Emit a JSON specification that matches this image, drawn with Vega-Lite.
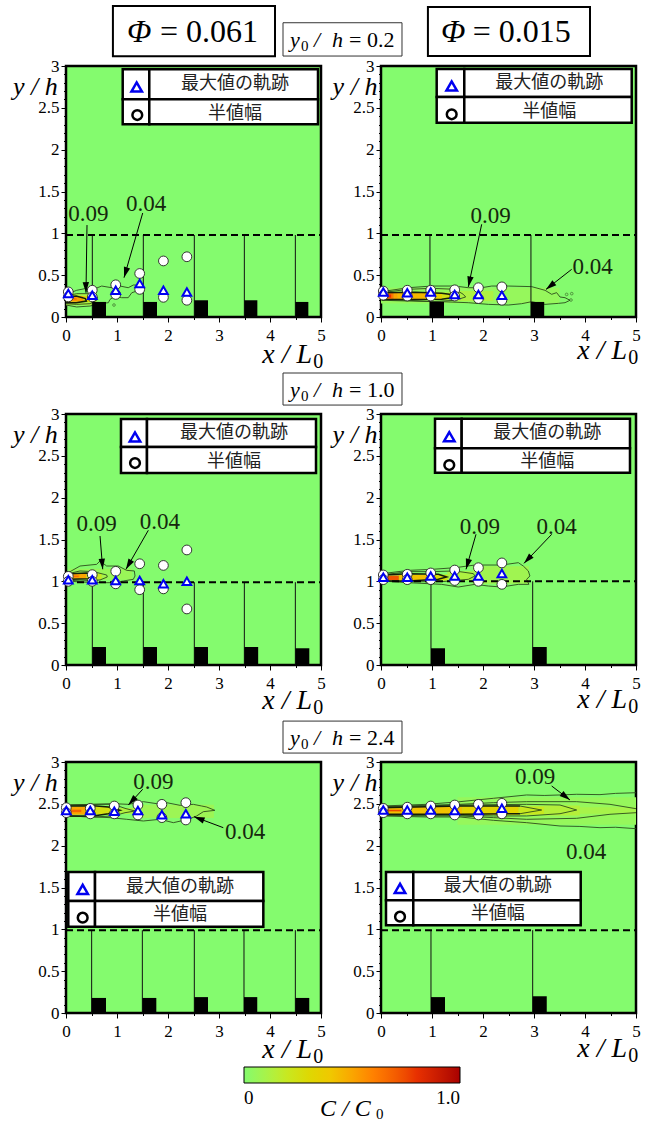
{"$schema":"https://vega.github.io/schema/vega-lite/v6.json","padding":{"left":11,"top":3,"right":0,"bottom":0},"background":"white","config":{"view":{"stroke":"#000","strokeWidth":2.5,"fill":"#84fb6e"}},"data":{"values":[
{"k":"h","p":"A","x":0,"x2":0.6,"y":0.14,"y2":0.28,"c":0.12},{"k":"h","p":"A","x":0.34,"x2":0.47,"y":0.18,"y2":0.25,"c":0.3},{"k":"h","p":"A","x":0.05,"x2":0.34,"y":0.183,"y2":0.25,"c":0.52},{"k":"h","p":"A","x":0.11,"x2":0.21,"y":0.2,"y2":0.23,"c":0.62},
{"k":"h","p":"B","x":0,"x2":3.5,"y":0.16,"y2":0.35,"c":0.05},{"k":"h","p":"B","x":1.5,"x2":2.2,"y":0.19,"y2":0.31,"c":0.12},{"k":"h","p":"B","x":1.2,"x2":1.5,"y":0.21,"y2":0.29,"c":0.25},{"k":"h","p":"B","x":0.95,"x2":1.2,"y":0.21,"y2":0.29,"c":0.35},{"k":"h","p":"B","x":0.33,"x2":0.95,"y":0.21,"y2":0.29,"c":0.45},{"k":"h","p":"B","x":0.25,"x2":0.33,"y":0.21,"y2":0.29,"c":0.5},{"k":"h","p":"B","x":0.02,"x2":0.25,"y":0.21,"y2":0.29,"c":0.62},{"k":"h","p":"B","x":0.05,"x2":0.2,"y":0.23,"y2":0.27,"c":0.8},
{"k":"h","p":"C","x":0.05,"x2":1.3,"y":1.02,"y2":1.15,"c":0.06},{"k":"h","p":"C","x":0.7,"x2":0.8,"y":1.03,"y2":1.08,"c":0.1},{"k":"h","p":"C","x":0.4,"x2":0.7,"y":1.02,"y2":1.09,"c":0.2},{"k":"h","p":"C","x":0.08,"x2":0.4,"y":1.03,"y2":1.09,"c":0.5},{"k":"h","p":"C","x":0.1,"x2":0.25,"y":1.05,"y2":1.07,"c":0.65},
{"k":"h","p":"D","x":1.8,"x2":2.9,"y":0.97,"y2":1.18,"c":0.08},{"k":"h","p":"D","x":1.3,"x2":1.8,"y":1.01,"y2":1.12,"c":0.12},{"k":"h","p":"D","x":0.95,"x2":1.3,"y":1.01,"y2":1.08,"c":0.28},{"k":"h","p":"D","x":0.35,"x2":0.95,"y":1.01,"y2":1.08,"c":0.42},{"k":"h","p":"D","x":0.02,"x2":0.35,"y":1.01,"y2":1.07,"c":0.72},
{"k":"h","p":"E","x":1.35,"x2":2.9,"y":2.33,"y2":2.49,"c":0.07},{"k":"h","p":"E","x":0.95,"x2":1.35,"y":2.38,"y2":2.45,"c":0.13},{"k":"h","p":"E","x":0.38,"x2":0.95,"y":2.37,"y2":2.47,"c":0.25},{"k":"h","p":"E","x":0.05,"x2":0.38,"y":2.37,"y2":2.47,"c":0.5},{"k":"h","p":"E","x":0.1,"x2":0.3,"y":2.4,"y2":2.43,"c":0.68},
{"k":"h","p":"F","x":1.5,"x2":5,"y":2.25,"y2":2.58,"c":0.05},{"k":"h","p":"F","x":3.9,"x2":5,"y":2.38,"y2":2.46,"c":0.1},{"k":"h","p":"F","x":3.2,"x2":3.9,"y":2.36,"y2":2.48,"c":0.14},{"k":"h","p":"F","x":2.7,"x2":3.2,"y":2.37,"y2":2.47,"c":0.2},{"k":"h","p":"F","x":1.6,"x2":2.7,"y":2.37,"y2":2.47,"c":0.33},{"k":"h","p":"F","x":0.02,"x2":1.6,"y":2.37,"y2":2.47,"c":0.42},{"k":"h","p":"F","x":0.05,"x2":0.4,"y":2.41,"y2":2.43,"c":0.75},

{"k":"c","p":"A","id":"A1","x":0,"y":0.27},{"k":"c","p":"A","id":"A1","x":0.21,"y":0.319},{"k":"c","p":"A","id":"A1","x":0.405,"y":0.343},{"k":"c","p":"A","id":"A1","x":0.536,"y":0.33},{"k":"c","p":"A","id":"A1","x":0.7,"y":0.37},{"k":"c","p":"A","id":"A1","x":0.895,"y":0.35},{"k":"c","p":"A","id":"A1","x":1.06,"y":0.37},{"k":"c","p":"A","id":"A1","x":1.22,"y":0.35},{"k":"c","p":"A","id":"A1","x":1.32,"y":0.382},{"k":"c","p":"A","id":"A1","x":1.45,"y":0.382},{"k":"c","p":"A","id":"A1","x":1.386,"y":0.31},{"k":"c","p":"A","id":"A1","x":1.29,"y":0.29},{"k":"c","p":"A","id":"A1","x":1.22,"y":0.231},{"k":"c","p":"A","id":"A1","x":1.09,"y":0.231},{"k":"c","p":"A","id":"A1","x":0.96,"y":0.25},{"k":"c","p":"A","id":"A1","x":0.863,"y":0.21},{"k":"c","p":"A","id":"A1","x":0.83,"y":0.171},{"k":"c","p":"A","id":"A1","x":0.667,"y":0.16},{"k":"c","p":"A","id":"A1","x":0.47,"y":0.131},{"k":"c","p":"A","id":"A1","x":0.21,"y":0.12},{"k":"c","p":"A","id":"A1","x":0,"y":0.143},
{"k":"c","p":"A","id":"A2","x":0,"y":0.25},{"k":"c","p":"A","id":"A2","x":0.21,"y":0.279},{"k":"c","p":"A","id":"A2","x":0.47,"y":0.279},{"k":"c","p":"A","id":"A2","x":0.614,"y":0.239},{"k":"c","p":"A","id":"A2","x":0.6,"y":0.2},{"k":"c","p":"A","id":"A2","x":0.47,"y":0.159},{"k":"c","p":"A","id":"A2","x":0.21,"y":0.151},{"k":"c","p":"A","id":"A2","x":0,"y":0.159},
{"k":"c2","p":"A","id":"A3","x":0,"y":0.24},{"k":"c2","p":"A","id":"A3","x":0.2,"y":0.25},{"k":"c2","p":"A","id":"A3","x":0.38,"y":0.22},{"k":"c2","p":"A","id":"A3","x":0.4,"y":0.19},{"k":"c2","p":"A","id":"A3","x":0.2,"y":0.17},{"k":"c2","p":"A","id":"A3","x":0,"y":0.17},

{"k":"c","p":"B","id":"B1","x":0.013,"y":0.303},{"k":"c","p":"B","id":"B1","x":0.536,"y":0.35},{"k":"c","p":"B","id":"B1","x":0.993,"y":0.37},{"k":"c","p":"B","id":"B1","x":1.45,"y":0.37},{"k":"c","p":"B","id":"B1","x":1.712,"y":0.35},{"k":"c","p":"B","id":"B1","x":1.974,"y":0.35},{"k":"c","p":"B","id":"B1","x":2.17,"y":0.37},{"k":"c","p":"B","id":"B1","x":2.497,"y":0.37},{"k":"c","p":"B","id":"B1","x":2.954,"y":0.363},{"k":"c","p":"B","id":"B1","x":3.216,"y":0.319},{"k":"c","p":"B","id":"B1","x":3.346,"y":0.271},{"k":"c","p":"B","id":"B1","x":3.444,"y":0.291},{"k":"c","p":"B","id":"B1","x":3.51,"y":0.239},{"k":"c","p":"B","id":"B1","x":3.608,"y":0.231},{"k":"c","p":"B","id":"B1","x":3.706,"y":0.2},{"k":"c","p":"B","id":"B1","x":3.608,"y":0.171},{"k":"c","p":"B","id":"B1","x":3.477,"y":0.163},{"k":"c","p":"B","id":"B1","x":3.216,"y":0.151},{"k":"c","p":"B","id":"B1","x":2.954,"y":0.183},{"k":"c","p":"B","id":"B1","x":2.758,"y":0.159},{"k":"c","p":"B","id":"B1","x":2.497,"y":0.143},{"k":"c","p":"B","id":"B1","x":2.105,"y":0.151},{"k":"c","p":"B","id":"B1","x":1.712,"y":0.171},{"k":"c","p":"B","id":"B1","x":1.19,"y":0.183},{"k":"c","p":"B","id":"B1","x":0.536,"y":0.191},{"k":"c","p":"B","id":"B1","x":0.013,"y":0.2},
{"k":"c","p":"B","id":"B2","x":0.013,"y":0.291},{"k":"c","p":"B","id":"B2","x":0.536,"y":0.331},{"k":"c","p":"B","id":"B2","x":0.993,"y":0.343},{"k":"c","p":"B","id":"B2","x":1.45,"y":0.331},{"k":"c","p":"B","id":"B2","x":1.614,"y":0.271},{"k":"c","p":"B","id":"B2","x":1.66,"y":0.239},{"k":"c","p":"B","id":"B2","x":1.45,"y":0.2},{"k":"c","p":"B","id":"B2","x":0.993,"y":0.183},{"k":"c","p":"B","id":"B2","x":0.536,"y":0.2},{"k":"c","p":"B","id":"B2","x":0.013,"y":0.211},
{"k":"c2","p":"B","id":"B3","x":0.013,"y":0.29},{"k":"c2","p":"B","id":"B3","x":0.667,"y":0.295},{"k":"c2","p":"B","id":"B3","x":1.19,"y":0.285},{"k":"c2","p":"B","id":"B3","x":1.45,"y":0.263},{"k":"c2","p":"B","id":"B3","x":1.484,"y":0.239},{"k":"c2","p":"B","id":"B3","x":1.19,"y":0.211},{"k":"c2","p":"B","id":"B3","x":0.667,"y":0.208},{"k":"c2","p":"B","id":"B3","x":0.013,"y":0.208},

{"k":"c","p":"C","id":"C1","x":0.046,"y":1.104},{"k":"c","p":"C","id":"C1","x":0.275,"y":1.183},{"k":"c","p":"C","id":"C1","x":0.6,"y":1.203},{"k":"c","p":"C","id":"C1","x":0.667,"y":1.243},{"k":"c","p":"C","id":"C1","x":0.797,"y":1.183},{"k":"c","p":"C","id":"C1","x":1.026,"y":1.183},{"k":"c","p":"C","id":"C1","x":1.19,"y":1.131},{"k":"c","p":"C","id":"C1","x":1.34,"y":1.124},{"k":"c","p":"C","id":"C1","x":1.353,"y":1.064},{"k":"c","p":"C","id":"C1","x":1.32,"y":1.024},{"k":"c","p":"C","id":"C1","x":1.124,"y":1.004},{"k":"c","p":"C","id":"C1","x":0.928,"y":0.984},{"k":"c","p":"C","id":"C1","x":0.667,"y":0.984},{"k":"c","p":"C","id":"C1","x":0.275,"y":0.992},{"k":"c","p":"C","id":"C1","x":0.046,"y":1.004},
{"k":"c","p":"C","id":"C2","x":0.046,"y":1.092},{"k":"c","p":"C","id":"C2","x":0.275,"y":1.124},{"k":"c","p":"C","id":"C2","x":0.536,"y":1.116},{"k":"c","p":"C","id":"C2","x":0.797,"y":1.076},{"k":"c","p":"C","id":"C2","x":0.81,"y":1.052},{"k":"c","p":"C","id":"C2","x":0.667,"y":1.016},{"k":"c","p":"C","id":"C2","x":0.275,"y":1.004},{"k":"c","p":"C","id":"C2","x":0.046,"y":1.016},
{"k":"c2","p":"C","id":"C3","x":0.08,"y":1.092},{"k":"c2","p":"C","id":"C3","x":0.405,"y":1.1},{"k":"c2","p":"C","id":"C3","x":0.503,"y":1.064},{"k":"c2","p":"C","id":"C3","x":0.438,"y":1.032},{"k":"c2","p":"C","id":"C3","x":0.08,"y":1.024},

{"k":"c","p":"D","id":"D1","x":0,"y":1.09},{"k":"c","p":"D","id":"D1","x":0.536,"y":1.131},{"k":"c","p":"D","id":"D1","x":0.993,"y":1.143},{"k":"c","p":"D","id":"D1","x":1.45,"y":1.163},{"k":"c","p":"D","id":"D1","x":1.843,"y":1.195},{"k":"c","p":"D","id":"D1","x":2.366,"y":1.195},{"k":"c","p":"D","id":"D1","x":2.693,"y":1.223},{"k":"c","p":"D","id":"D1","x":2.79,"y":1.183},{"k":"c","p":"D","id":"D1","x":2.889,"y":1.124},{"k":"c","p":"D","id":"D1","x":2.92,"y":1.064},{"k":"c","p":"D","id":"D1","x":2.856,"y":1.024},{"k":"c","p":"D","id":"D1","x":2.9,"y":0.964},{"k":"c","p":"D","id":"D1","x":2.693,"y":0.964},{"k":"c","p":"D","id":"D1","x":2.366,"y":0.932},{"k":"c","p":"D","id":"D1","x":2.105,"y":0.944},{"k":"c","p":"D","id":"D1","x":1.843,"y":0.964},{"k":"c","p":"D","id":"D1","x":1.516,"y":0.932},{"k":"c","p":"D","id":"D1","x":1.19,"y":0.964},{"k":"c","p":"D","id":"D1","x":0.536,"y":0.984},{"k":"c","p":"D","id":"D1","x":0,"y":1.004},
{"k":"c","p":"D","id":"D2","x":0.013,"y":1.076},{"k":"c","p":"D","id":"D2","x":0.536,"y":1.116},{"k":"c","p":"D","id":"D2","x":0.993,"y":1.116},{"k":"c","p":"D","id":"D2","x":1.45,"y":1.124},{"k":"c","p":"D","id":"D2","x":1.81,"y":1.092},{"k":"c","p":"D","id":"D2","x":1.843,"y":1.064},{"k":"c","p":"D","id":"D2","x":1.712,"y":1.024},{"k":"c","p":"D","id":"D2","x":1.19,"y":0.996},{"k":"c","p":"D","id":"D2","x":0.536,"y":0.996},{"k":"c","p":"D","id":"D2","x":0.013,"y":1.004},
{"k":"c2","p":"D","id":"D3","x":0.013,"y":1.076},{"k":"c2","p":"D","id":"D3","x":0.536,"y":1.092},{"k":"c2","p":"D","id":"D3","x":1.124,"y":1.084},{"k":"c2","p":"D","id":"D3","x":1.288,"y":1.052},{"k":"c2","p":"D","id":"D3","x":1.124,"y":1.024},{"k":"c2","p":"D","id":"D3","x":0.536,"y":1.004},{"k":"c2","p":"D","id":"D3","x":0.013,"y":1.004},

{"k":"c","p":"E","id":"E1","x":0,"y":2.486},{"k":"c","p":"E","id":"E1","x":0.536,"y":2.494},{"k":"c","p":"E","id":"E1","x":0.928,"y":2.502},{"k":"c","p":"E","id":"E1","x":1.222,"y":2.494},{"k":"c","p":"E","id":"E1","x":1.516,"y":2.526},{"k":"c","p":"E","id":"E1","x":1.778,"y":2.502},{"k":"c","p":"E","id":"E1","x":1.974,"y":2.514},{"k":"c","p":"E","id":"E1","x":2.235,"y":2.482},{"k":"c","p":"E","id":"E1","x":2.497,"y":2.494},{"k":"c","p":"E","id":"E1","x":2.66,"y":2.474},{"k":"c","p":"E","id":"E1","x":2.758,"y":2.462},{"k":"c","p":"E","id":"E1","x":2.92,"y":2.422},{"k":"c","p":"E","id":"E1","x":2.693,"y":2.406},{"k":"c","p":"E","id":"E1","x":2.562,"y":2.355},{"k":"c","p":"E","id":"E1","x":2.399,"y":2.315},{"k":"c","p":"E","id":"E1","x":2.105,"y":2.275},{"k":"c","p":"E","id":"E1","x":1.843,"y":2.315},{"k":"c","p":"E","id":"E1","x":1.516,"y":2.295},{"k":"c","p":"E","id":"E1","x":1.19,"y":2.315},{"k":"c","p":"E","id":"E1","x":0.863,"y":2.335},{"k":"c","p":"E","id":"E1","x":0.536,"y":2.343},{"k":"c","p":"E","id":"E1","x":0,"y":2.355},
{"k":"c","p":"E","id":"E2","x":0,"y":2.486},{"k":"c","p":"E","id":"E2","x":0.536,"y":2.494},{"k":"c","p":"E","id":"E2","x":0.928,"y":2.494},{"k":"c","p":"E","id":"E2","x":1.157,"y":2.446},{"k":"c","p":"E","id":"E2","x":1.353,"y":2.414},{"k":"c","p":"E","id":"E2","x":1.157,"y":2.394},{"k":"c","p":"E","id":"E2","x":0.928,"y":2.355},{"k":"c","p":"E","id":"E2","x":0.536,"y":2.343},{"k":"c","p":"E","id":"E2","x":0,"y":2.355},
{"k":"c2","p":"E","id":"E3","x":0,"y":2.474},{"k":"c2","p":"E","id":"E3","x":0.536,"y":2.478},{"k":"c2","p":"E","id":"E3","x":0.83,"y":2.462},{"k":"c2","p":"E","id":"E3","x":1.059,"y":2.422},{"k":"c2","p":"E","id":"E3","x":0.83,"y":2.382},{"k":"c2","p":"E","id":"E3","x":0.536,"y":2.355},{"k":"c2","p":"E","id":"E3","x":0,"y":2.355},

{"k":"c","p":"F","id":"F1","x":0.013,"y":2.474},{"k":"c","p":"F","id":"F1","x":0.895,"y":2.494},{"k":"c","p":"F","id":"F1","x":1.549,"y":2.526},{"k":"c","p":"F","id":"F1","x":2.203,"y":2.566},{"k":"c","p":"F","id":"F1","x":2.856,"y":2.606},{"k":"c","p":"F","id":"F1","x":3.2,"y":2.6},{"k":"c","p":"F","id":"F1","x":3.51,"y":2.606},{"k":"c","p":"F","id":"F1","x":3.837,"y":2.614},{"k":"c","p":"F","id":"F1","x":4.294,"y":2.61},{"k":"c","p":"F","id":"F1","x":4.6,"y":2.625},{"k":"c","p":"F","id":"F1","x":5,"y":2.633},
{"k":"c","p":"F","id":"F1b","x":5,"y":2.203},{"k":"c","p":"F","id":"F1b","x":4.6,"y":2.22},{"k":"c","p":"F","id":"F1b","x":4.294,"y":2.215},{"k":"c","p":"F","id":"F1b","x":3.9,"y":2.23},{"k":"c","p":"F","id":"F1b","x":3.51,"y":2.235},{"k":"c","p":"F","id":"F1b","x":2.856,"y":2.275},{"k":"c","p":"F","id":"F1b","x":2.203,"y":2.303},{"k":"c","p":"F","id":"F1b","x":1.549,"y":2.343},{"k":"c","p":"F","id":"F1b","x":0.895,"y":2.343},{"k":"c","p":"F","id":"F1b","x":0.013,"y":2.355},
{"k":"c","p":"F","id":"F2","x":0.013,"y":2.466},{"k":"c","p":"F","id":"F2","x":0.895,"y":2.482},{"k":"c","p":"F","id":"F2","x":1.549,"y":2.494},{"k":"c","p":"F","id":"F2","x":2.203,"y":2.514},{"k":"c","p":"F","id":"F2","x":2.856,"y":2.526},{"k":"c","p":"F","id":"F2","x":3.837,"y":2.526},{"k":"c","p":"F","id":"F2","x":4.49,"y":2.494},{"k":"c","p":"F","id":"F2","x":5,"y":2.442},
{"k":"c","p":"F","id":"F2b","x":5,"y":2.394},{"k":"c","p":"F","id":"F2b","x":4.49,"y":2.375},{"k":"c","p":"F","id":"F2b","x":3.837,"y":2.327},{"k":"c","p":"F","id":"F2b","x":2.856,"y":2.315},{"k":"c","p":"F","id":"F2b","x":2.203,"y":2.335},{"k":"c","p":"F","id":"F2b","x":1.549,"y":2.355},{"k":"c","p":"F","id":"F2b","x":0.895,"y":2.355},{"k":"c","p":"F","id":"F2b","x":0.013,"y":2.363},
{"k":"c","p":"F","id":"F3","x":0.013,"y":2.462},{"k":"c","p":"F","id":"F3","x":1.549,"y":2.486},{"k":"c","p":"F","id":"F3","x":2.856,"y":2.494},{"k":"c","p":"F","id":"F3","x":3.51,"y":2.486},{"k":"c","p":"F","id":"F3","x":3.837,"y":2.426},{"k":"c","p":"F","id":"F3","x":3.51,"y":2.382},{"k":"c","p":"F","id":"F3","x":2.856,"y":2.355},{"k":"c","p":"F","id":"F3","x":2.203,"y":2.355},{"k":"c","p":"F","id":"F3","x":1.549,"y":2.363},{"k":"c","p":"F","id":"F3","x":0.013,"y":2.363},
{"k":"c2","p":"F","id":"F4","x":0.013,"y":2.454},{"k":"c2","p":"F","id":"F4","x":1.549,"y":2.474},{"k":"c2","p":"F","id":"F4","x":2.725,"y":2.474},{"k":"c","p":"F","id":"F4t","x":2.725,"y":2.474},{"k":"c","p":"F","id":"F4t","x":3.15,"y":2.426},{"k":"c","p":"F","id":"F4t","x":2.725,"y":2.382},{"k":"c2","p":"F","id":"F4b","x":2.725,"y":2.382},{"k":"c2","p":"F","id":"F4b","x":1.549,"y":2.375},{"k":"c2","p":"F","id":"F4b","x":0.013,"y":2.375},

{"k":"ring","p":"A","x":0.941,"y":0.143},{"k":"ring","p":"B","x":3.64,"y":0.27},{"k":"ring","p":"B","x":3.74,"y":0.279},{"k":"ring","p":"B","x":3.725,"y":0.203},

{"k":"v","p":"A","x":0.516,"y":0,"y2":0.98},{"k":"v","p":"A","x":1.516,"y":0,"y2":0.98},{"k":"v","p":"A","x":2.516,"y":0,"y2":0.98},{"k":"v","p":"A","x":3.497,"y":0,"y2":0.98},{"k":"v","p":"A","x":4.497,"y":0,"y2":0.98},
{"k":"v","p":"B","x":0.96,"y":0,"y2":0.98},{"k":"v","p":"B","x":2.94,"y":0,"y2":0.98},
{"k":"v","p":"C","x":0.516,"y":0,"y2":0.99},{"k":"v","p":"C","x":1.516,"y":0,"y2":0.99},{"k":"v","p":"C","x":2.516,"y":0,"y2":0.99},{"k":"v","p":"C","x":3.497,"y":0,"y2":0.99},{"k":"v","p":"C","x":4.497,"y":0,"y2":0.99},
{"k":"v","p":"D","x":0.98,"y":0,"y2":1},{"k":"v","p":"D","x":2.974,"y":0,"y2":1},
{"k":"v","p":"E","x":0.503,"y":0,"y2":0.99},{"k":"v","p":"E","x":1.497,"y":0,"y2":0.99},{"k":"v","p":"E","x":2.516,"y":0,"y2":0.99},{"k":"v","p":"E","x":3.49,"y":0,"y2":0.99},{"k":"v","p":"E","x":4.497,"y":0,"y2":0.99},
{"k":"v","p":"F","x":0.98,"y":0,"y2":0.99},{"k":"v","p":"F","x":2.974,"y":0,"y2":0.99},

{"k":"d","p":"A","x":0,"x2":5,"y":0.98},{"k":"d","p":"B","x":0,"x2":5,"y":0.98},{"k":"d","p":"C","x":0,"x2":5,"y":0.99},{"k":"d","p":"D","x":0,"x2":5,"y":1},{"k":"d","p":"E","x":0,"x2":5,"y":0.99},{"k":"d","p":"F","x":0,"x2":5,"y":0.99},

{"k":"o","p":"A","x":0.516,"x2":0.784,"y":0,"y2":0.18},{"k":"o","p":"A","x":1.516,"x2":1.784,"y":0,"y2":0.18},{"k":"o","p":"A","x":2.516,"x2":2.784,"y":0,"y2":0.2},{"k":"o","p":"A","x":3.497,"x2":3.752,"y":0,"y2":0.2},{"k":"o","p":"A","x":4.497,"x2":4.752,"y":0,"y2":0.18},
{"k":"o","p":"B","x":0.96,"x2":1.235,"y":0,"y2":0.18},{"k":"o","p":"B","x":2.94,"x2":3.2,"y":0,"y2":0.18},
{"k":"o","p":"C","x":0.516,"x2":0.784,"y":0,"y2":0.215},{"k":"o","p":"C","x":1.516,"x2":1.784,"y":0,"y2":0.215},{"k":"o","p":"C","x":2.516,"x2":2.784,"y":0,"y2":0.215},{"k":"o","p":"C","x":3.497,"x2":3.768,"y":0,"y2":0.215},{"k":"o","p":"C","x":4.497,"x2":4.771,"y":0,"y2":0.2},
{"k":"o","p":"D","x":0.98,"x2":1.255,"y":0,"y2":0.2},{"k":"o","p":"D","x":2.974,"x2":3.25,"y":0,"y2":0.215},
{"k":"o","p":"E","x":0.503,"x2":0.784,"y":0,"y2":0.18},{"k":"o","p":"E","x":1.497,"x2":1.771,"y":0,"y2":0.18},{"k":"o","p":"E","x":2.516,"x2":2.784,"y":0,"y2":0.19},{"k":"o","p":"E","x":3.49,"x2":3.75,"y":0,"y2":0.19},{"k":"o","p":"E","x":4.497,"x2":4.77,"y":0,"y2":0.18},
{"k":"o","p":"F","x":0.98,"x2":1.255,"y":0,"y2":0.19},{"k":"o","p":"F","x":2.974,"x2":3.25,"y":0,"y2":0.2},

{"k":"ar","p":"A","id":"a1","x":0.412,"y":1.099},{"k":"ar","p":"A","id":"a1","x":0.392,"y":0.29},{"k":"ar","p":"A","id":"a2","x":1.504,"y":1.243},{"k":"ar","p":"A","id":"a2","x":1.137,"y":0.47},
{"k":"ar","p":"B","id":"b1","x":1.974,"y":1.108},{"k":"ar","p":"B","id":"b1","x":1.712,"y":0.359},{"k":"ar","p":"B","id":"b2","x":3.739,"y":0.57},{"k":"ar","p":"B","id":"b2","x":3.235,"y":0.33},
{"k":"ar","p":"C","id":"c1","x":0.667,"y":1.542},{"k":"ar","p":"C","id":"c1","x":0.72,"y":1.144},{"k":"ar","p":"C","id":"c2","x":1.614,"y":1.61},{"k":"ar","p":"C","id":"c2","x":1.176,"y":1.144},
{"k":"ar","p":"D","id":"d1","x":1.863,"y":1.562},{"k":"ar","p":"D","id":"d1","x":1.667,"y":1.144},{"k":"ar","p":"D","id":"d2","x":3.347,"y":1.562},{"k":"ar","p":"D","id":"d2","x":2.804,"y":1.215},
{"k":"ar","p":"E","id":"e1","x":1.504,"y":2.674},{"k":"ar","p":"E","id":"e1","x":1.222,"y":2.486},{"k":"ar","p":"E","id":"e2","x":3.084,"y":2.215},{"k":"ar","p":"E","id":"e2","x":2.51,"y":2.346},
{"k":"ar","p":"F","id":"f1","x":3.347,"y":2.713},{"k":"ar","p":"F","id":"f1","x":3.706,"y":2.546},

{"k":"hd","p":"A","x":0.392,"y":0.29,"a":179},{"k":"hd","p":"A","x":1.137,"y":0.47,"a":196.6},{"k":"hd","p":"B","x":1.712,"y":0.359,"a":192},{"k":"hd","p":"B","x":3.235,"y":0.33,"a":232},{"k":"hd","p":"C","x":0.72,"y":1.144,"a":175},{"k":"hd","p":"C","x":1.176,"y":1.144,"a":209.8},{"k":"hd","p":"D","x":1.667,"y":1.144,"a":196},{"k":"hd","p":"D","x":2.804,"y":1.215,"a":223.7},{"k":"hd","p":"E","x":1.222,"y":2.486,"a":222.5},{"k":"hd","p":"E","x":2.51,"y":2.346,"a":290.6},{"k":"hd","p":"F","x":3.706,"y":2.546,"a":127.4},

{"k":"cir","p":"A","x":0.045,"y":0.3},{"k":"cir","p":"A","x":0.045,"y":0.24},{"k":"cir","p":"A","x":0.515,"y":0.32},{"k":"cir","p":"A","x":0.515,"y":0.24},{"k":"cir","p":"A","x":0.975,"y":0.385},{"k":"cir","p":"A","x":0.975,"y":0.27},{"k":"cir","p":"A","x":1.445,"y":0.52},{"k":"cir","p":"A","x":1.445,"y":0.33},{"k":"cir","p":"A","x":1.91,"y":0.67},{"k":"cir","p":"A","x":1.91,"y":0.235},{"k":"cir","p":"A","x":2.37,"y":0.72},{"k":"cir","p":"A","x":2.37,"y":0.2},
{"k":"cir","p":"B","x":0.045,"y":0.31},{"k":"cir","p":"B","x":0.045,"y":0.26},{"k":"cir","p":"B","x":0.515,"y":0.32},{"k":"cir","p":"B","x":0.515,"y":0.25},{"k":"cir","p":"B","x":0.975,"y":0.32},{"k":"cir","p":"B","x":0.975,"y":0.25},{"k":"cir","p":"B","x":1.445,"y":0.325},{"k":"cir","p":"B","x":1.445,"y":0.25},{"k":"cir","p":"B","x":1.91,"y":0.35},{"k":"cir","p":"B","x":1.91,"y":0.22},{"k":"cir","p":"B","x":2.37,"y":0.36},{"k":"cir","p":"B","x":2.37,"y":0.2},
{"k":"cir","p":"C","x":0.045,"y":1.06},{"k":"cir","p":"C","x":0.045,"y":1.0},{"k":"cir","p":"C","x":0.515,"y":1.08},{"k":"cir","p":"C","x":0.515,"y":1.0},{"k":"cir","p":"C","x":0.975,"y":1.12},{"k":"cir","p":"C","x":0.975,"y":0.97},{"k":"cir","p":"C","x":1.445,"y":1.21},{"k":"cir","p":"C","x":1.445,"y":0.9},{"k":"cir","p":"C","x":1.91,"y":1.19},{"k":"cir","p":"C","x":1.91,"y":0.91},{"k":"cir","p":"C","x":2.37,"y":1.375},{"k":"cir","p":"C","x":2.37,"y":0.67},
{"k":"cir","p":"D","x":0.045,"y":1.076},{"k":"cir","p":"D","x":0.045,"y":1.02},{"k":"cir","p":"D","x":0.515,"y":1.084},{"k":"cir","p":"D","x":0.515,"y":1.02},{"k":"cir","p":"D","x":0.975,"y":1.1},{"k":"cir","p":"D","x":0.975,"y":1.02},{"k":"cir","p":"D","x":1.445,"y":1.135},{"k":"cir","p":"D","x":1.445,"y":1.01},{"k":"cir","p":"D","x":1.91,"y":1.163},{"k":"cir","p":"D","x":1.91,"y":1.0},{"k":"cir","p":"D","x":2.37,"y":1.22},{"k":"cir","p":"D","x":2.37,"y":0.964},
{"k":"cir","p":"E","x":0.006,"y":2.454},{"k":"cir","p":"E","x":0.006,"y":2.394},{"k":"cir","p":"E","x":0.476,"y":2.446},{"k":"cir","p":"E","x":0.476,"y":2.38},{"k":"cir","p":"E","x":0.947,"y":2.474},{"k":"cir","p":"E","x":0.947,"y":2.38},{"k":"cir","p":"E","x":1.41,"y":2.486},{"k":"cir","p":"E","x":1.41,"y":2.367},{"k":"cir","p":"E","x":1.88,"y":2.494},{"k":"cir","p":"E","x":1.88,"y":2.335},{"k":"cir","p":"E","x":2.35,"y":2.514},{"k":"cir","p":"E","x":2.35,"y":2.307},
{"k":"cir","p":"F","x":0.045,"y":2.446},{"k":"cir","p":"F","x":0.045,"y":2.394},{"k":"cir","p":"F","x":0.515,"y":2.46},{"k":"cir","p":"F","x":0.515,"y":2.38},{"k":"cir","p":"F","x":0.975,"y":2.474},{"k":"cir","p":"F","x":0.975,"y":2.38},{"k":"cir","p":"F","x":1.445,"y":2.486},{"k":"cir","p":"F","x":1.445,"y":2.367},{"k":"cir","p":"F","x":1.91,"y":2.494},{"k":"cir","p":"F","x":1.91,"y":2.367},{"k":"cir","p":"F","x":2.37,"y":2.506},{"k":"cir","p":"F","x":2.37,"y":2.38},

{"k":"tri","p":"A","x":0.045,"y":0.28},{"k":"tri","p":"A","x":0.515,"y":0.26},{"k":"tri","p":"A","x":0.975,"y":0.32},{"k":"tri","p":"A","x":1.445,"y":0.4},{"k":"tri","p":"A","x":1.91,"y":0.32},{"k":"tri","p":"A","x":2.37,"y":0.3},
{"k":"tri","p":"B","x":0.045,"y":0.3},{"k":"tri","p":"B","x":0.515,"y":0.29},{"k":"tri","p":"B","x":0.975,"y":0.3},{"k":"tri","p":"B","x":1.445,"y":0.27},{"k":"tri","p":"B","x":1.91,"y":0.27},{"k":"tri","p":"B","x":2.37,"y":0.26},
{"k":"tri","p":"C","x":0.045,"y":1.02},{"k":"tri","p":"C","x":0.515,"y":1.02},{"k":"tri","p":"C","x":0.975,"y":1.01},{"k":"tri","p":"C","x":1.445,"y":1.01},{"k":"tri","p":"C","x":1.91,"y":0.97},{"k":"tri","p":"C","x":2.37,"y":1.0},
{"k":"tri","p":"D","x":0.045,"y":1.05},{"k":"tri","p":"D","x":0.515,"y":1.05},{"k":"tri","p":"D","x":0.975,"y":1.065},{"k":"tri","p":"D","x":1.445,"y":1.065},{"k":"tri","p":"D","x":1.91,"y":1.065},{"k":"tri","p":"D","x":2.37,"y":1.095},
{"k":"tri","p":"E","x":0.006,"y":2.42},{"k":"tri","p":"E","x":0.476,"y":2.42},{"k":"tri","p":"E","x":0.947,"y":2.41},{"k":"tri","p":"E","x":1.41,"y":2.42},{"k":"tri","p":"E","x":1.88,"y":2.37},{"k":"tri","p":"E","x":2.35,"y":2.38},
{"k":"tri","p":"F","x":0.045,"y":2.426},{"k":"tri","p":"F","x":0.515,"y":2.426},{"k":"tri","p":"F","x":0.975,"y":2.426},{"k":"tri","p":"F","x":1.445,"y":2.42},{"k":"tri","p":"F","x":1.91,"y":2.42},{"k":"tri","p":"F","x":2.37,"y":2.446},

{"k":"lg","p":"A","x":1.112,"x2":1.633,"y":2.96,"y2":2.602},{"k":"lg","p":"A","x":1.633,"x2":4.941,"y":2.96,"y2":2.602},{"k":"lg","p":"A","x":1.112,"x2":1.633,"y":2.602,"y2":2.303},{"k":"lg","p":"A","x":1.633,"x2":4.941,"y":2.602,"y2":2.303},
{"k":"lg","p":"B","x":1.092,"x2":1.633,"y":2.964,"y2":2.629},{"k":"lg","p":"B","x":1.633,"x2":4.916,"y":2.964,"y2":2.629},{"k":"lg","p":"B","x":1.092,"x2":1.633,"y":2.629,"y2":2.322},{"k":"lg","p":"B","x":1.633,"x2":4.916,"y":2.629,"y2":2.322},
{"k":"lg","p":"C","x":1.078,"x2":1.588,"y":2.94,"y2":2.606},{"k":"lg","p":"C","x":1.588,"x2":4.902,"y":2.94,"y2":2.606},{"k":"lg","p":"C","x":1.078,"x2":1.588,"y":2.606,"y2":2.295},{"k":"lg","p":"C","x":1.588,"x2":4.902,"y":2.606,"y2":2.295},
{"k":"lg","p":"D","x":1.059,"x2":1.582,"y":2.944,"y2":2.59},{"k":"lg","p":"D","x":1.582,"x2":4.882,"y":2.944,"y2":2.59},{"k":"lg","p":"D","x":1.059,"x2":1.582,"y":2.59,"y2":2.298},{"k":"lg","p":"D","x":1.582,"x2":4.882,"y":2.59,"y2":2.298},
{"k":"lg","p":"E","x":0.045,"x2":0.569,"y":1.685,"y2":1.339},{"k":"lg","p":"E","x":0.569,"x2":3.869,"y":1.685,"y2":1.339},{"k":"lg","p":"E","x":0.045,"x2":0.569,"y":1.339,"y2":1.031},{"k":"lg","p":"E","x":0.569,"x2":3.869,"y":1.339,"y2":1.031},
{"k":"lg","p":"F","x":0.098,"x2":0.633,"y":1.685,"y2":1.347},{"k":"lg","p":"F","x":0.633,"x2":3.916,"y":1.685,"y2":1.347},{"k":"lg","p":"F","x":0.098,"x2":0.633,"y":1.347,"y2":1.048},{"k":"lg","p":"F","x":0.633,"x2":3.916,"y":1.347,"y2":1.048},

{"k":"ltri","p":"A","x":1.386,"y":2.749},{"k":"lcir","p":"A","x":1.398,"y":2.414},{"k":"lt","p":"A","x":3.314,"y":2.785,"t":"最大値の軌跡"},{"k":"lt","p":"A","x":3.314,"y":2.43,"t":"半値幅"},
{"k":"ltri","p":"B","x":1.386,"y":2.761},{"k":"lcir","p":"B","x":1.386,"y":2.423},{"k":"lt","p":"B","x":3.3,"y":2.793,"t":"最大値の軌跡"},{"k":"lt","p":"B","x":3.3,"y":2.454,"t":"半値幅"},
{"k":"ltri","p":"C","x":1.353,"y":2.725},{"k":"lcir","p":"C","x":1.353,"y":2.414},{"k":"lt","p":"C","x":3.294,"y":2.773,"t":"最大値の軌跡"},{"k":"lt","p":"C","x":3.294,"y":2.426,"t":"半値幅"},
{"k":"ltri","p":"D","x":1.339,"y":2.729},{"k":"lcir","p":"D","x":1.339,"y":2.39},{"k":"lt","p":"D","x":3.261,"y":2.769,"t":"最大値の軌跡"},{"k":"lt","p":"D","x":3.261,"y":2.426,"t":"半値幅"},
{"k":"ltri","p":"E","x":0.327,"y":1.478},{"k":"lcir","p":"E","x":0.327,"y":1.139},{"k":"lt","p":"E","x":2.235,"y":1.51,"t":"最大値の軌跡"},{"k":"lt","p":"E","x":2.235,"y":1.171,"t":"半値幅"},
{"k":"ltri","p":"F","x":0.373,"y":1.49},{"k":"lcir","p":"F","x":0.373,"y":1.151},{"k":"lt","p":"F","x":2.288,"y":1.518,"t":"最大値の軌跡"},{"k":"lt","p":"F","x":2.288,"y":1.18,"t":"半値幅"},

{"k":"ann","p":"A","x":0.437,"y":1.227,"t":"0.09"},{"k":"ann","p":"A","x":1.569,"y":1.347,"t":"0.04"},{"k":"ann","p":"B","x":2.151,"y":1.207,"t":"0.09"},{"k":"ann","p":"B","x":4.151,"y":0.601,"t":"0.04"},{"k":"ann","p":"C","x":0.602,"y":1.682,"t":"0.09"},{"k":"ann","p":"C","x":1.843,"y":1.709,"t":"0.04"},{"k":"ann","p":"D","x":1.941,"y":1.649,"t":"0.09"},{"k":"ann","p":"D","x":3.445,"y":1.649,"t":"0.04"},{"k":"ann","p":"E","x":1.712,"y":2.761,"t":"0.09"},{"k":"ann","p":"E","x":3.51,"y":2.167,"t":"0.04"},{"k":"ann","p":"F","x":3.02,"y":2.824,"t":"0.09"},{"k":"ann","p":"F","x":4.02,"y":1.928,"t":"0.04"},

{"k":"yh","p":"A","x":-0.6,"y":2.65,"t":"y / h"},{"k":"yh","p":"B","x":-0.51,"y":2.65,"t":"y / h"},{"k":"yh","p":"C","x":-0.6,"y":2.65,"t":"y / h"},{"k":"yh","p":"D","x":-0.51,"y":2.65,"t":"y / h"},{"k":"yh","p":"E","x":-0.6,"y":2.65,"t":"y / h"},{"k":"yh","p":"F","x":-0.51,"y":2.65,"t":"y / h"},
{"k":"xl","p":"A","x":3.85,"y":-0.55,"t":"x / L"},{"k":"xl","p":"B","x":3.85,"y":-0.5,"t":"x / L"},{"k":"xl","p":"C","x":3.85,"y":-0.53,"t":"x / L"},{"k":"xl","p":"D","x":3.85,"y":-0.51,"t":"x / L"},{"k":"xl","p":"E","x":3.85,"y":-0.54,"t":"x / L"},{"k":"xl","p":"F","x":3.85,"y":-0.52,"t":"x / L"},
{"k":"xs","p":"A","x":4.85,"y":-0.61,"t":"0"},{"k":"xs","p":"B","x":4.85,"y":-0.56,"t":"0"},{"k":"xs","p":"C","x":4.85,"y":-0.59,"t":"0"},{"k":"xs","p":"D","x":4.85,"y":-0.57,"t":"0"},{"k":"xs","p":"E","x":4.85,"y":-0.6,"t":"0"},{"k":"xs","p":"F","x":4.85,"y":-0.58,"t":"0"},

{"k":"phb","p":"A","x":0.92,"x2":4.098,"y":3.716,"y2":3.118},{"k":"phb","p":"B","x":0.92,"x2":4.098,"y":3.705,"y2":3.119},
{"k":"phi","p":"A","x":1.196,"y":3.287,"t":"Φ"},{"k":"phn","p":"A","x":1.843,"y":3.287,"t":"= 0.061"},{"k":"phi","p":"B","x":1.176,"y":3.29,"t":"Φ"},{"k":"phn","p":"B","x":1.8,"y":3.29,"t":"= 0.015"},

{"k":"yb","p":"A","x":4.255,"x2":6.588,"y":3.517,"y2":3.119},{"k":"yb","p":"C","x":4.255,"x2":6.588,"y":3.49,"y2":3.107},{"k":"yb","p":"E","x":4.255,"x2":6.588,"y":3.489,"y2":3.107},
{"k":"yi","p":"A","x":4.392,"y":3.227,"t":"y"},{"k":"ys","p":"A","x":4.608,"y":3.179,"t":"0"},{"k":"yi","p":"A","x":4.863,"y":3.227,"t":"/"},{"k":"yi","p":"A","x":5.216,"y":3.227,"t":"h"},{"k":"yn","p":"A","x":5.549,"y":3.227,"t":"= 0.2"},
{"k":"yi","p":"C","x":4.392,"y":3.207,"t":"y"},{"k":"ys","p":"C","x":4.608,"y":3.159,"t":"0"},{"k":"yi","p":"C","x":4.863,"y":3.207,"t":"/"},{"k":"yi","p":"C","x":5.216,"y":3.207,"t":"h"},{"k":"yn","p":"C","x":5.549,"y":3.207,"t":"= 1.0"},
{"k":"yi","p":"E","x":4.392,"y":3.205,"t":"y"},{"k":"ys","p":"E","x":4.608,"y":3.157,"t":"0"},{"k":"yi","p":"E","x":4.863,"y":3.205,"t":"/"},{"k":"yi","p":"E","x":5.216,"y":3.205,"t":"h"},{"k":"yn","p":"E","x":5.549,"y":3.205,"t":"= 2.4"},

{"k":"cci","p":"E","x":4.98,"y":-1.231,"t":"C / C"},{"k":"ccs","p":"E","x":6.08,"y":-1.27,"t":"0"}
]},
"facet":{"field":"p","type":"nominal","header":{"labelExpr":"''","labelColor":"transparent","labelFontSize":1,"labelPadding":-30,"title":null},"title":null},"columns":2,"spacing":{"row":97,"column":60},"bounds":"flush","resolve":{"axis":{"x":"independent","y":"independent"}},
"spec":{"width":255,"height":251,
"encoding":{
"x":{"field":"x","type":"quantitative","title":null,"scale":{"domain":[0,5],"nice":false,"zero":false},"axis":{"values":[0,0.5,1,1.5,2,2.5,3,3.5,4,4.5,5],"labelExpr":"datum.value%1==0?format(datum.value,'d'):''","tickSize":{"expr":"datum.value%1==0?5:2.5"},"tickColor":"#000","tickWidth":1,"domain":false,"grid":false,"labelFont":"Liberation Serif","labelFontSize":17,"labelColor":"#000","labelPadding":5,"labelBound":false,"labelFlush":false,"labelOverlap":false,"encoding":{"labels":{"update":{"stroke":{"value":"#000"},"strokeWidth":{"value":0.7}}}}}},
"y":{"field":"y","type":"quantitative","title":null,"scale":{"domain":[0,3],"nice":false,"zero":false},"axis":{"values":[0,0.1,0.2,0.3,0.4,0.5,0.6,0.7,0.8,0.9,1,1.1,1.2,1.3,1.4,1.5,1.6,1.7,1.8,1.9,2,2.1,2.2,2.3,2.4,2.5,2.6,2.7,2.8,2.9,3],"labelExpr":"abs(datum.value*2-round(datum.value*2))<0.001?format(datum.value,'~g'):''","tickSize":{"expr":"abs(datum.value*2-round(datum.value*2))<0.001?5:2.5"},"tickColor":"#000","tickWidth":1,"domain":false,"grid":false,"labelFont":"Liberation Serif","labelFontSize":17,"labelColor":"#000","labelPadding":2,"labelBound":false,"labelFlush":false,"labelOverlap":false,"encoding":{"labels":{"update":{"stroke":{"value":"#000"},"strokeWidth":{"value":0.7}}}}}}},
"layer":[
{"transform":[{"filter":"datum.k=='h'"}],"mark":{"type":"rect"},"encoding":{"x2":{"field":"x2"},"y2":{"field":"y2"},"color":{"field":"c","type":"quantitative","scale":{"domain":[0,0.2,0.4,0.6,0.8,1],"range":["#84fb6e","#c8e820","#f0c800","#ff8000","#e83000","#a80000"]},"legend":{"orient":"none","legendX":178,"legendY":1001,"direction":"horizontal","gradientLength":216,"gradientThickness":16,"title":null,"values":[0,1],"labelExpr":"datum.value==0?'0':'1.0'","labelFont":"Liberation Serif","labelFontSize":19,"labelColor":"#000","labelOffset":6,"gradientStrokeColor":"#000","gradientStrokeWidth":1}}}},
{"transform":[{"filter":"datum.k=='c'"}],"mark":{"type":"line","color":"#2c4c1c","strokeWidth":0.9},"encoding":{"detail":{"field":"id"},"order":{"value":null}}},
{"transform":[{"filter":"datum.k=='c2'"}],"mark":{"type":"line","color":"#141f08","strokeWidth":1.5},"encoding":{"detail":{"field":"id"},"order":{"value":null}}},
{"transform":[{"filter":"datum.k=='ring'"}],"mark":{"type":"point","shape":"circle","size":7,"filled":false,"stroke":"#2c4c1c","strokeWidth":0.8}},
{"transform":[{"filter":"datum.k=='v'"}],"mark":{"type":"rule","color":"#111","strokeWidth":1},"encoding":{"y2":{"field":"y2"}}},
{"transform":[{"filter":"datum.k=='d'"}],"mark":{"type":"rule","color":"#000","strokeWidth":2,"strokeDash":[7,4]},"encoding":{"x2":{"field":"x2"}}},
{"transform":[{"filter":"datum.k=='o'"}],"mark":{"type":"rect","color":"#000"},"encoding":{"x2":{"field":"x2"},"y2":{"field":"y2"}}},
{"transform":[{"filter":"datum.k=='ar'"}],"mark":{"type":"line","color":"#000","strokeWidth":1},"encoding":{"detail":{"field":"id"},"order":{"value":null}}},
{"transform":[{"filter":"datum.k=='hd'"}],"mark":{"type":"point","shape":"M0,0L0.3,1L-0.3,1Z","size":450,"filled":true,"color":"#000","opacity":1},"encoding":{"angle":{"field":"a","type":"quantitative","scale":null}}},
{"transform":[{"filter":"datum.k=='cir'"}],"mark":{"type":"point","shape":"circle","size":95,"filled":true,"fill":"#fff","stroke":"#222","strokeWidth":0.9,"opacity":1}},
{"transform":[{"filter":"datum.k=='tri'"}],"mark":{"type":"point","shape":"triangle-up","size":75,"filled":true,"fill":"#fff","stroke":"#0000f0","strokeWidth":2,"opacity":1}},
{"transform":[{"filter":"datum.k=='lg'"}],"mark":{"type":"rect","fill":"#fff","stroke":"#000","strokeWidth":2.5},"encoding":{"x2":{"field":"x2"},"y2":{"field":"y2"}}},
{"transform":[{"filter":"datum.k=='ltri'"}],"mark":{"type":"point","shape":"triangle-up","size":110,"filled":true,"fill":"#fff","stroke":"#0000f0","strokeWidth":2.5,"opacity":1}},
{"transform":[{"filter":"datum.k=='lcir'"}],"mark":{"type":"point","shape":"circle","size":95,"filled":true,"fill":"#fff","stroke":"#000","strokeWidth":2.5,"opacity":1}},
{"transform":[{"filter":"datum.k=='lt'"}],"mark":{"type":"text","font":"Noto Sans CJK JP","fontSize":18,"color":"#222","align":"center","baseline":"middle"},"encoding":{"text":{"field":"t"}}},
{"transform":[{"filter":"datum.k=='ann'"}],"mark":{"type":"text","font":"Liberation Serif","fontSize":23,"color":"#15260d","align":"center","baseline":"middle"},"encoding":{"text":{"field":"t"}}},
{"transform":[{"filter":"datum.k=='yh'"}],"mark":{"type":"text","font":"Liberation Serif","fontStyle":"italic","fontSize":26,"color":"#000","align":"center","baseline":"alphabetic"},"encoding":{"text":{"field":"t"}}},
{"transform":[{"filter":"datum.k=='xl'"}],"mark":{"type":"text","font":"Liberation Serif","fontStyle":"italic","fontSize":28,"color":"#000","align":"left","baseline":"alphabetic"},"encoding":{"text":{"field":"t"}}},
{"transform":[{"filter":"datum.k=='xs'"}],"mark":{"type":"text","font":"Liberation Serif","fontSize":20,"color":"#000","align":"left","baseline":"alphabetic"},"encoding":{"text":{"field":"t"}}},
{"transform":[{"filter":"datum.k=='phb'"}],"mark":{"type":"rect","fill":"#fff","stroke":"#000","strokeWidth":2},"encoding":{"x2":{"field":"x2"},"y2":{"field":"y2"}}},
{"transform":[{"filter":"datum.k=='phi'"}],"mark":{"type":"text","font":"Liberation Serif","fontStyle":"italic","fontSize":32,"color":"#000","align":"left","baseline":"alphabetic"},"encoding":{"text":{"field":"t"}}},
{"transform":[{"filter":"datum.k=='phn'"}],"mark":{"type":"text","font":"Liberation Serif","fontSize":32,"color":"#000","align":"left","baseline":"alphabetic"},"encoding":{"text":{"field":"t"}}},
{"transform":[{"filter":"datum.k=='yb'"}],"mark":{"type":"rect","fill":"#fff","stroke":"#333","strokeWidth":1},"encoding":{"x2":{"field":"x2"},"y2":{"field":"y2"}}},
{"transform":[{"filter":"datum.k=='yi'"}],"mark":{"type":"text","font":"Liberation Serif","fontStyle":"italic","fontSize":22,"color":"#000","align":"left","baseline":"alphabetic"},"encoding":{"text":{"field":"t"}}},
{"transform":[{"filter":"datum.k=='ys'"}],"mark":{"type":"text","font":"Liberation Serif","fontSize":15,"color":"#000","align":"left","baseline":"alphabetic"},"encoding":{"text":{"field":"t"}}},
{"transform":[{"filter":"datum.k=='yn'"}],"mark":{"type":"text","font":"Liberation Serif","fontSize":22,"color":"#000","align":"left","baseline":"alphabetic"},"encoding":{"text":{"field":"t"}}},
{"transform":[{"filter":"datum.k=='cci'"}],"mark":{"type":"text","font":"Liberation Serif","fontStyle":"italic","fontSize":24,"color":"#000","align":"left","baseline":"alphabetic"},"encoding":{"text":{"field":"t"}}},
{"transform":[{"filter":"datum.k=='ccs'"}],"mark":{"type":"text","font":"Liberation Serif","fontSize":15,"color":"#000","align":"left","baseline":"alphabetic"},"encoding":{"text":{"field":"t"}}}
]}}
